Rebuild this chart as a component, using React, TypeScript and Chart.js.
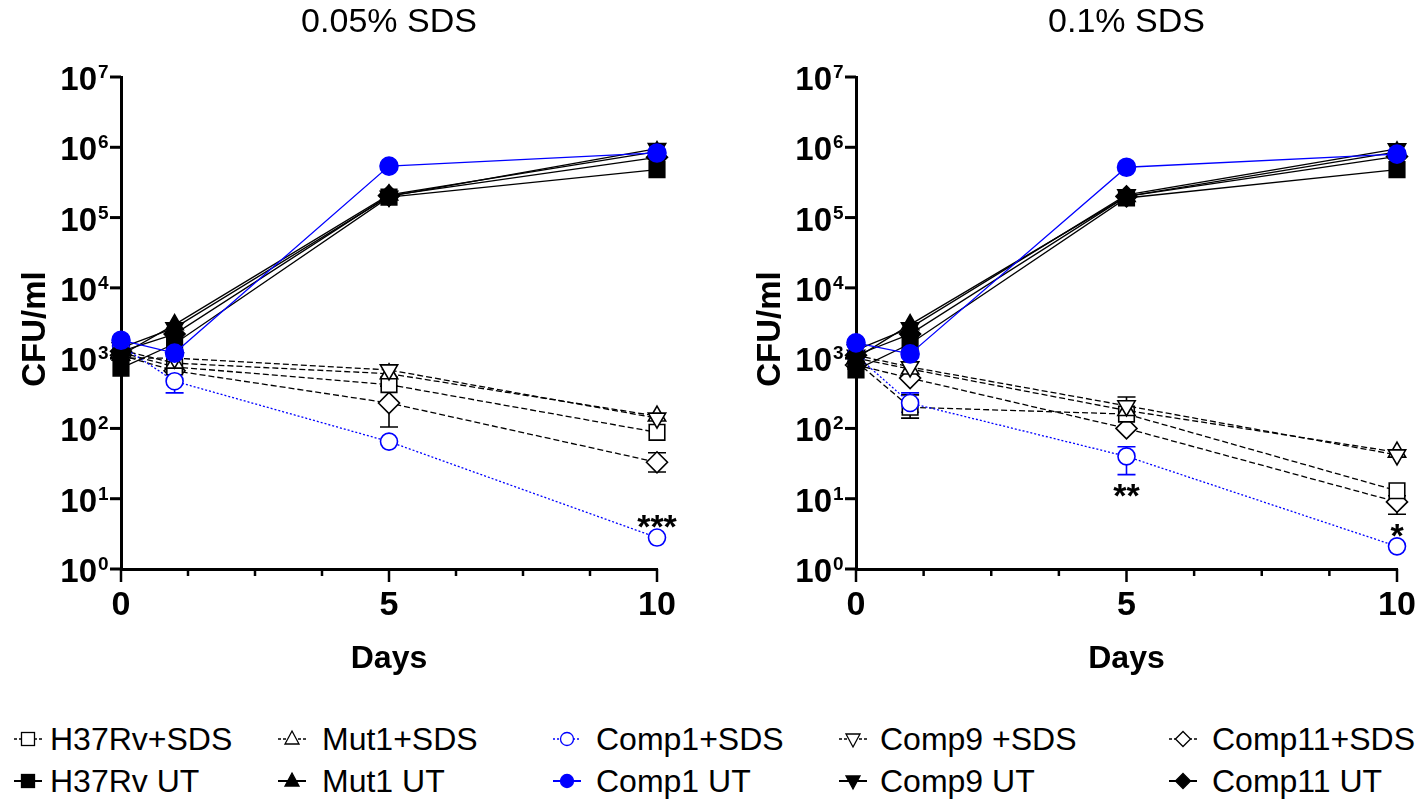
import React, { useEffect, useRef } from 'react';
import { Chart, registerables } from 'chart.js';
Chart.register(...registerables);

const FONT = '"Liberation Sans", Arial, Helvetica, sans-serif';

// ---------- data ----------
const DAYS = [0, 1, 5, 10];
const X_TICKS = [0, 1.25, 2.5, 3.75, 5, 6.25, 7.5, 8.75, 10];
const X_LABELS = [0, 5, 10];
const Y_EXPONENTS = [0, 1, 2, 3, 4, 5, 6, 7];
const PANEL_TITLES = ['0.05% SDS', '0.1% SDS'];
const X_TITLE = 'Days';
const Y_TITLE = 'CFU/ml';
const SERIES_NAMES = [
  'H37Rv+SDS', 'Mut1+SDS', 'Comp1+SDS', 'Comp9 +SDS', 'Comp11+SDS',
  'H37Rv UT', 'Mut1 UT', 'Comp1 UT', 'Comp9 UT', 'Comp11 UT',
];

// panel A: 0.05% SDS
const A_H37RV_SDS = [1200, 750, 420, 88];
const A_MUT1_SDS = [1300, 850, 600, 150];
const A_COMP1_SDS = [1500, 470, 65, 2.8];
const A_COMP9_SDS = [1000, 1000, 680, 140];
const A_COMP11_SDS = [1100, 660, 230, 33];
const A_H37RV_UT = [720, 1600, 195000, 480000];
const A_MUT1_UT = [1100, 3000, 210000, 870000];
const A_COMP1_UT = [1800, 1180, 540000, 830000];
const A_COMP9_UT = [1400, 2700, 200000, 960000];
const A_COMP11_UT = [1250, 2200, 205000, 720000];
const A_COMP1_SDS_LO = [null, 320, null, null];
const A_COMP1_SDS_HI = [null, 650, null, null];
const A_COMP11_SDS_LO = [null, null, 105, 24];
const A_COMP11_SDS_HI = [null, null, 400, 45];
const A_STARS = ['', '', '', '***'];

// panel B: 0.1% SDS
const B_H37RV_SDS = [900, 200, 160, 13];
const B_MUT1_SDS = [1000, 700, 180, 46];
const B_COMP1_SDS = [1100, 230, 40, 2.1];
const B_COMP9_SDS = [1100, 750, 210, 42];
const B_COMP11_SDS = [800, 520, 100, 9];
const B_H37RV_UT = [680, 1600, 190000, 480000];
const B_MUT1_UT = [1000, 3000, 200000, 860000];
const B_COMP1_UT = [1650, 1150, 520000, 800000];
const B_COMP9_UT = [1300, 2700, 210000, 950000];
const B_COMP11_UT = [1100, 2200, 200000, 740000];
const B_H37RV_SDS_LO = [null, 140, null, null];
const B_H37RV_SDS_HI = [null, 300, 280, null];
const B_COMP1_SDS_LO = [null, 170, 22, null];
const B_COMP1_SDS_HI = [null, 320, 55, null];
const B_COMP11_SDS_LO = [null, null, null, 6];
const B_COMP11_SDS_HI = [null, null, null, 11];
const B_STARS = ['', '', '**', '*'];

// ---------- styles ----------
const BLUE = '#0000ff';
type Sty = { shape: string; rot: number; filled: boolean; color: string; dash: number[]; r: number };
const STYLES: Sty[] = [
  { shape: 'rect', rot: 0, filled: false, color: '#000', dash: [6, 3], r: 11 },
  { shape: 'triangle', rot: 0, filled: false, color: '#000', dash: [6, 3], r: 10 },
  { shape: 'circle', rot: 0, filled: false, color: BLUE, dash: [2, 2], r: 8.5 },
  { shape: 'triangle', rot: 180, filled: false, color: '#000', dash: [6, 3], r: 10 },
  { shape: 'rectRot', rot: 0, filled: false, color: '#000', dash: [6, 3], r: 10.5 },
  { shape: 'rect', rot: 0, filled: true, color: '#000', dash: [], r: 11 },
  { shape: 'triangle', rot: 0, filled: true, color: '#000', dash: [], r: 10 },
  { shape: 'circle', rot: 0, filled: true, color: BLUE, dash: [], r: 9 },
  { shape: 'triangle', rot: 180, filled: true, color: '#000', dash: [], r: 10 },
  { shape: 'rectRot', rot: 0, filled: true, color: '#000', dash: [], r: 10.5 },
];
// drawing order: first = on top
const DRAW_ORDER = [7, 8, 6, 9, 5, 2, 3, 1, 0, 4];

type PanelData = {
  title: string;
  series: number[][];
  lo: ((number | null)[] | null)[];
  hi: ((number | null)[] | null)[];
  stars: string[];
  starSeries: number;
};

const PANELS: PanelData[] = [
  {
    title: PANEL_TITLES[0],
    series: [A_H37RV_SDS, A_MUT1_SDS, A_COMP1_SDS, A_COMP9_SDS, A_COMP11_SDS, A_H37RV_UT, A_MUT1_UT, A_COMP1_UT, A_COMP9_UT, A_COMP11_UT],
    lo: [null, null, A_COMP1_SDS_LO, null, A_COMP11_SDS_LO, null, null, null, null, null],
    hi: [null, null, A_COMP1_SDS_HI, null, A_COMP11_SDS_HI, null, null, null, null, null],
    stars: A_STARS,
    starSeries: 2,
  },
  {
    title: PANEL_TITLES[1],
    series: [B_H37RV_SDS, B_MUT1_SDS, B_COMP1_SDS, B_COMP9_SDS, B_COMP11_SDS, B_H37RV_UT, B_MUT1_UT, B_COMP1_UT, B_COMP9_UT, B_COMP11_UT],
    lo: [B_H37RV_SDS_LO, null, B_COMP1_SDS_LO, null, B_COMP11_SDS_LO, null, null, null, null, null],
    hi: [B_H37RV_SDS_HI, null, B_COMP1_SDS_HI, null, B_COMP11_SDS_HI, null, null, null, null, null],
    stars: B_STARS,
    starSeries: 2,
  },
];

const CANVAS_W = 709;
const CANVAS_H = 700;
const PADS = [
  { left: 121, right: 52, top: 77, bottom: 131 },
  { left: 147, right: 21, top: 77, bottom: 131 },
];

function makeDecor(p: PanelData) {
  return {
    id: 'decor',
    beforeDatasetsDraw(chart: any) {
      const ctx = chart.ctx;
      const xs = chart.scales.x;
      const ys = chart.scales.y;
      ctx.save();
      ctx.setLineDash([]);
      ctx.lineWidth = 1.6;
      p.series.forEach((_s, si) => {
        const lo = p.lo[si];
        const hi = p.hi[si];
        if (!lo && !hi) return;
        ctx.strokeStyle = STYLES[si].color;
        DAYS.forEach((d, i) => {
          const px = xs.getPixelForValue(d);
          const py = ys.getPixelForValue(p.series[si][i]);
          const ends = [lo ? lo[i] : null, hi ? hi[i] : null];
          ends.forEach((v) => {
            if (v == null) return;
            const ey = ys.getPixelForValue(v);
            ctx.beginPath();
            ctx.moveTo(px, py);
            ctx.lineTo(px, ey);
            ctx.moveTo(px - 9, ey);
            ctx.lineTo(px + 9, ey);
            ctx.stroke();
          });
        });
      });
      ctx.restore();
    },
    afterDraw(chart: any) {
      const ctx = chart.ctx;
      const xs = chart.scales.x;
      const ys = chart.scales.y;
      const { left, right, top, bottom } = chart.chartArea;
      ctx.save();
      ctx.fillStyle = '#000';
      ctx.strokeStyle = '#000';
      ctx.setLineDash([]);
      // y ticks + labels
      ctx.lineWidth = 3;
      Y_EXPONENTS.forEach((e) => {
        const py = ys.getPixelForValue(Math.pow(10, e));
        ctx.beginPath();
        ctx.moveTo(left - 11, py);
        ctx.lineTo(left, py);
        ctx.stroke();
        ctx.font = `bold 33px ${FONT}`;
        ctx.textAlign = 'right';
        ctx.textBaseline = 'alphabetic';
        ctx.fillText('10', left - 24, py + 13);
        ctx.font = `bold 19px ${FONT}`;
        ctx.textAlign = 'left';
        ctx.fillText(String(e), left - 23, py + 1);
      });
      // x ticks + labels
      ctx.lineWidth = 2.5;
      X_TICKS.forEach((t) => {
        const px = xs.getPixelForValue(t);
        const major = X_LABELS.indexOf(t) >= 0;
        ctx.beginPath();
        ctx.moveTo(px, bottom);
        ctx.lineTo(px, bottom + (major ? 13 : 7));
        ctx.stroke();
      });
      ctx.font = `bold 34px ${FONT}`;
      ctx.textAlign = 'center';
      X_LABELS.forEach((t) => {
        ctx.fillText(String(t), xs.getPixelForValue(t), bottom + 46);
      });
      // axis titles
      ctx.font = `bold 32px ${FONT}`;
      ctx.fillText(X_TITLE, (left + right) / 2, bottom + 99);
      ctx.save();
      ctx.translate(left - 76, (top + bottom) / 2 + 6);
      ctx.rotate(-Math.PI / 2);
      ctx.font = `bold 33px ${FONT}`;
      ctx.textAlign = 'center';
      ctx.fillText(Y_TITLE, 0, 0);
      ctx.restore();
      // panel title
      ctx.font = `34px ${FONT}`;
      ctx.textAlign = 'center';
      ctx.fillText(p.title, (left + right) / 2, 32);
      // significance stars
      ctx.font = `bold 34px ${FONT}`;
      p.stars.forEach((s, i) => {
        if (!s) return;
        const si = p.starSeries;
        const val = p.series[si][i];
        const px = xs.getPixelForValue(DAYS[i]);
        const py = ys.getPixelForValue(val);
        const loArr = p.lo[si];
        const below = i < DAYS.length - 1;
        let cy;
        if (below) {
          const lo = loArr && loArr[i] != null ? ys.getPixelForValue(loArr[i]) : py + 9;
          cy = lo + 13;
        } else {
          cy = py - 19;
        }
        ctx.fillText(s, px, cy + 0.57 * 34);
      });
      ctx.restore();
    },
  };
}

function Panel({ idx }: { idx: number }) {
  const ref = useRef<HTMLCanvasElement | null>(null);
  useEffect(() => {
    const p = PANELS[idx];
    const datasets = DRAW_ORDER.map((si) => {
      const st = STYLES[si];
      return {
        label: SERIES_NAMES[si],
        data: DAYS.map((d, i) => ({ x: d, y: p.series[si][i] })),
        borderColor: st.color,
        borderWidth: 1.3,
        borderDash: st.dash,
        pointStyle: st.shape,
        rotation: st.rot,
        pointRadius: st.r,
        pointBorderWidth: 1.6,
        pointBorderColor: st.color,
        pointBackgroundColor: st.filled ? st.color : '#ffffff',
        backgroundColor: st.filled ? st.color : '#ffffff',
        fill: false,
        tension: 0,
        clip: false,
      };
    });
    const chart = new Chart(ref.current as HTMLCanvasElement, {
      type: 'line',
      data: { datasets } as any,
      options: {
        responsive: false,
        animation: false,
        events: [],
        layout: { padding: PADS[idx] },
        plugins: { legend: { display: false }, tooltip: { enabled: false }, title: { display: false } },
        scales: {
          x: {
            type: 'linear', min: 0, max: 10,
            grid: { display: false },
            border: { display: true, color: '#000', width: 3 },
            ticks: { display: false },
            afterFit: (s: any) => { s.height = 0; },
          },
          y: {
            type: 'logarithmic', min: 1, max: 1e7,
            grid: { display: false },
            border: { display: true, color: '#000', width: 3 },
            ticks: { display: false },
            afterFit: (s: any) => { s.width = 0; },
          },
        },
      } as any,
      plugins: [makeDecor(p)],
    });
    return () => chart.destroy();
  }, [idx]);
  return <canvas ref={ref} width={CANVAS_W} height={CANVAS_H} style={{ position: 'absolute', left: idx * CANVAS_W, top: 0 }} />;
}

function LegendMarker({ si }: { si: number }) {
  const st = STYLES[si];
  const c = 20, cy = 12;
  const fill = st.filled ? st.color : '#fff';
  let shape: any = null;
  const sw = 1.3;
  if (st.shape === 'rect') shape = <rect x={c - 6.5} y={cy - 6.5} width={13} height={13} fill={fill} stroke={st.color} strokeWidth={sw} />;
  else if (st.shape === 'circle') shape = <circle cx={c} cy={cy} r={6.5} fill={fill} stroke={st.color} strokeWidth={sw} />;
  else if (st.shape === 'rectRot') shape = <polygon points={`${c - 7.5},${cy} ${c},${cy - 7.5} ${c + 7.5},${cy} ${c},${cy + 7.5}`} fill={fill} stroke={st.color} strokeWidth={sw} />;
  else if (st.shape === 'triangle') {
    const up = st.rot === 0;
    const pts = up
      ? `${c},${cy - 8} ${c + 7},${cy + 5} ${c - 7},${cy + 5}`
      : `${c},${cy + 8} ${c + 7},${cy - 5} ${c - 7},${cy - 5}`;
    shape = <polygon points={pts} fill={fill} stroke={st.color} strokeWidth={sw} />;
  }
  return (
    <svg width={40} height={24} style={{ position: 'absolute', left: -20, top: -12 }}>
      <line x1={6} y1={cy} x2={34} y2={cy} stroke={st.color} strokeWidth={st.filled ? 2 : 1.3} strokeDasharray={st.filled ? undefined : (si === 2 ? '2 2' : '3 2')} />
      {shape}
    </svg>
  );
}

const LEG_MARK_X = [28, 292, 567, 853, 1183];
const LEG_TEXT_X = [50, 322, 596, 880, 1212];
const LEG_ROW_Y = [739, 781];

function Legend() {
  const items: any[] = [];
  SERIES_NAMES.forEach((name, si) => {
    const row = si < 5 ? 0 : 1;
    const col = si % 5;
    items.push(
      <div key={'m' + si} style={{ position: 'absolute', left: LEG_MARK_X[col], top: LEG_ROW_Y[row] }}>
        <LegendMarker si={si} />
      </div>
    );
    items.push(
      <div key={'t' + si} style={{ position: 'absolute', left: LEG_TEXT_X[col], top: LEG_ROW_Y[row] - 16, font: `32px ${FONT}`, lineHeight: '32px', whiteSpace: 'pre', color: '#000' }}>
        {name}
      </div>
    );
  });
  return <>{items}</>;
}

export default function App() {
  return (
    <div style={{ position: 'absolute', left: 0, top: 0, width: 1418, height: 805, background: '#fff', overflow: 'hidden' }}>
      <Panel idx={0} />
      <Panel idx={1} />
      <Legend />
    </div>
  );
}
